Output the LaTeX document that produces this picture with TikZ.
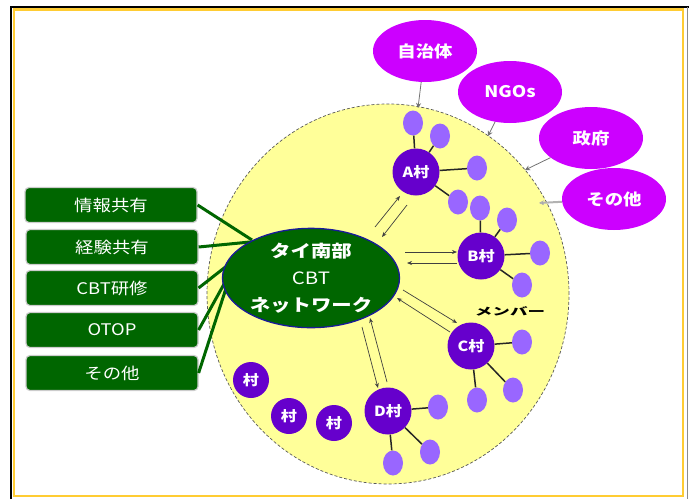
\documentclass[tikz,border=0pt]{standalone}
\usepackage{fontspec}
\setmainfont{Noto Sans CJK JP}
\usetikzlibrary{shapes.geometric,arrows.meta}
\definecolor{frgold}{HTML}{FFCC33}
\definecolor{yel}{HTML}{FFFF99}
\definecolor{dgreen}{HTML}{006600}
\definecolor{navy}{HTML}{1A1A99}
\definecolor{mag}{HTML}{CC00FF}
\definecolor{vil}{HTML}{6600CC}
\definecolor{mem}{HTML}{9966FF}
\newcommand{\sx}[1]{\scalebox{1.15}[1]{#1}}
\begin{document}
\begin{tikzpicture}[x=1pt,y=-1pt,
  topicbox/.style={rectangle, rounded corners=4pt, fill=dgreen, draw=black!20, line width=1.2pt,
    minimum width=172pt, minimum height=35pt, text=white, inner sep=0pt,
    font=\fontsize{16}{16}\selectfont},
  orgell/.style={ellipse, fill=mag, minimum width=104pt, minimum height=62pt, text=white,
    inner sep=0pt, font=\bfseries\fontsize{16}{16}\selectfont},
  village/.style={circle, fill=vil, minimum size=47pt, text=white, inner sep=0pt,
    font=\bfseries\fontsize{14}{14}\selectfont},
  smallvil/.style={circle, fill=vil, minimum size=36pt, text=white, inner sep=0pt,
    font=\bfseries\fontsize{14}{14}\selectfont},
  memb/.style={ellipse, fill=mem, minimum width=20pt, minimum height=25pt, inner sep=0pt},
  memline/.style={black!85, line width=1.5pt},
  vlink/.style={black!75, line width=0.7pt, -{Stealth[length=5pt,width=4pt]}},
  olink/.style={black!55, line width=0.8pt, -{Stealth[length=5pt,width=5pt,fill=black]}},
  gline/.style={dgreen, line width=3pt}
]
\useasboundingbox (0,0) rectangle (689,499);
% frame
\draw[black, line width=2pt] (11,499) -- (11,7) -- (689,7);
\draw[frgold, line width=2.5pt] (14,9.5) rectangle (683,496);
\draw[black!45, line width=1pt] (687,7) -- (687,499);

% big network ellipse
\node[ellipse, fill=yel, draw=black!65, densely dashed, line width=0.7pt,
  minimum width=362pt, minimum height=380pt, inner sep=0pt] (net) at (388,294) {};

% topic boxes
\node[topicbox] (t1) at (111,205) {\sx{情報共有}};
\node[topicbox] (t2) at (112,247) {\sx{経験共有}};
\node[topicbox] (t3) at (112,288) {\sx{CBT研修}};
\node[topicbox] (t4) at (112,330) {\sx{OTOP}};
\node[topicbox] (t5) at (112,373) {\sx{その他}};

\coordinate (g1) at (252,240);
\coordinate (g2) at (250,242);
\coordinate (g3) at (242,254);
\coordinate (g4) at (234,266);
\coordinate (g5) at (230,276);
\draw[gline] (t1.east) -- (g1);
\draw[gline] (t2.east) -- (g2);
\draw[gline] (t3.east) -- (g3);
\draw[gline] (t4.east) -- (g4);
\draw[gline] (t5.east) -- (g5);

% central network
\node[ellipse, fill=dgreen, draw=navy, line width=1.3pt, minimum width=177pt,
  minimum height=98pt, inner sep=0pt, text=white, align=center,
  font=\fontsize{17}{27}\selectfont] (cbt) at (311,278)
  {\scalebox{1.2}[1]{\bfseries タイ南部}\\ \scalebox{1.2}[1]{CBT}\\ \scalebox{1.2}[1]{\bfseries ネットワーク}};

% outside organisations
\node[orgell] (o1) at (425,51) {\sx{自治体}};
\node[orgell] (o2) at (510,92) {\sx{NGOs}};
\node[orgell] (o3) at (591,138) {\sx{政府}};
\node[orgell] (o4) at (614,199) {\sx{その他}};
\coordinate (e1) at (418,108);
\coordinate (e2) at (488,136);
\coordinate (e3) at (525,170);
\coordinate (e4) at (539,203);
\draw[olink] (o1) -- (e1);
\draw[olink] (o2) -- (e2);
\draw[olink] (o3) -- (e3);
\draw[olink, black!30, line width=2pt] (o4) -- (e4);

% villages
\node[village] (A) at (416,172) {\sx{A村}};
\node[village] (B) at (481,256) {\sx{B村}};
\node[village] (C) at (471,346) {\sx{C村}};
\node[village] (D) at (388,411) {\sx{D村}};
\node[smallvil] (s1) at (251,380) {\sx{村}};
\node[smallvil] (s2) at (289,416) {\sx{村}};
\node[smallvil] (s3) at (334,423) {\sx{村}};

% members
\node[memb] (a1) at (413,123) {};
\node[memb] (a2) at (440,136) {};
\node[memb] (a3) at (477,168) {};
\node[memb] (a4) at (458,202) {};
\node[memb] (b1) at (480,208) {};
\node[memb] (b2) at (507,220) {};
\node[memb] (b3) at (540,253) {};
\node[memb] (b4) at (522,285) {};
\node[memb] (c1) at (522,342) {};
\node[memb] (c2) at (477,400) {};
\node[memb] (c3) at (513,390) {};
\node[memb] (d1) at (438,407) {};
\node[memb] (d2) at (393,463) {};
\node[memb] (d3) at (430,452) {};
\foreach \v/\m in {A/a1,A/a2,A/a3,A/a4,B/b1,B/b2,B/b3,B/b4,C/c1,C/c2,C/c3,D/d1,D/d2,D/d3}
  \draw[memline] (\v) -- (\m);

\node[font=\bfseries\fontsize{13}{13}\selectfont, text=black, inner sep=0pt] (mlab) at (510,311)
  {\scalebox{1.35}[0.8]{メンバー}};

% links between network and villages
\coordinate (pa1) at (375,227); \coordinate (qa1) at (400,196);
\coordinate (pa2) at (407,205); \coordinate (qa2) at (382,237);
\coordinate (pb1) at (405,252); \coordinate (qb1) at (457,252);
\coordinate (pb2) at (457,263); \coordinate (qb2) at (407,263);
\coordinate (pc1) at (403,290); \coordinate (qc1) at (457,323);
\coordinate (pc2) at (450,332); \coordinate (qc2) at (397,298);
\coordinate (pd1) at (362,327); \coordinate (qd1) at (378,388);
\coordinate (pd2) at (387,382); \coordinate (qd2) at (370,318);
\draw[vlink] (pa1) -- (qa1);
\draw[vlink] (pa2) -- (qa2);
\draw[vlink] (pb1) -- (qb1);
\draw[vlink] (pb2) -- (qb2);
\draw[vlink] (pc1) -- (qc1);
\draw[vlink] (pc2) -- (qc2);
\draw[vlink] (pd1) -- (qd1);
\draw[vlink] (pd2) -- (qd2);
\end{tikzpicture}
\end{document}
